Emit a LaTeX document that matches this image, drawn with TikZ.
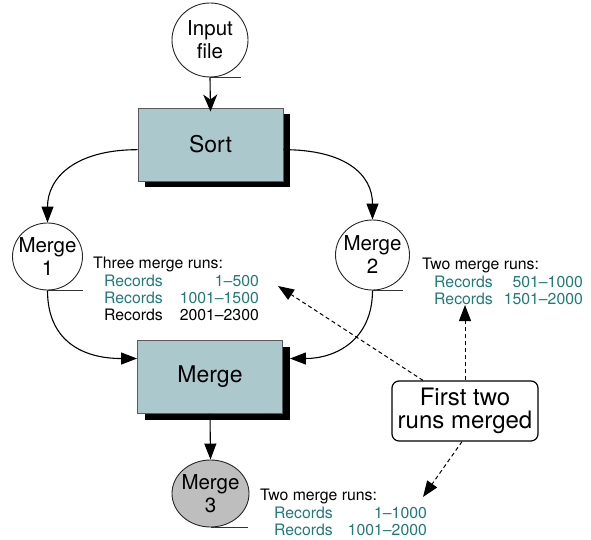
\documentclass[tikz,border=0pt]{standalone}
\usepackage{fontspec}
\setmainfont{TeX Gyre Heros}
\usetikzlibrary{shapes.geometric,shadows,arrows.meta,calc}
\definecolor{boxfill}{RGB}{171,201,205}
\definecolor{tealtxt}{RGB}{31,122,122}
\definecolor{grayfill}{RGB}{190,190,190}
\begin{document}
\begin{tikzpicture}[x=1pt,y=-1pt,
  ell/.style={ellipse, draw=black!85, line width=0.9pt, inner sep=0pt},
  elltext/.style={inner sep=0pt, align=center, font=\fontsize{20.5}{23}\selectfont},
  proc/.style={rectangle, draw=black!65, line width=0.9pt, fill=boxfill,
    minimum width=145pt, minimum height=73pt, font=\fontsize{23}{26}\selectfont,
    drop shadow={shadow xshift=7pt, shadow yshift=-6pt, fill=black, opacity=1}},
  arr/.style={-{Triangle[length=16pt,width=12pt]}, line width=1.1pt},
  dsh/.style={-{Triangle[length=16pt,width=12pt]}, line width=1pt, dash pattern=on 4pt off 3pt},
  tail/.style={line width=0.9pt, draw=black!80},
  runs/.style={anchor=north west, inner sep=0pt, align=left, font=\fontsize{15.8}{17.4}\selectfont},
]
\useasboundingbox (0,0) rectangle (591,540);

% nodes
\node[ell, minimum width=76pt, minimum height=74pt] (in) at (210,40) {};
\node[elltext] (intext) at (in.center) {Input\\file};

\node[proc] (sort) at (210.5,144.5) {Sort};

\node[ell, minimum width=70pt, minimum height=67pt] (m1) at (47.5,256.5) {};
\node[elltext] (m1text) at (m1.center) {Merge\\1};

\node[ell, minimum width=74pt, minimum height=70pt] (m2) at (372.5,255) {};
\node[elltext] (m2text) at (m2.center) {Merge\\2};

\node[proc] (mg) at (210,377) {Merge};

\node[ell, fill=grayfill, minimum width=77pt, minimum height=67pt] (m3) at (210.5,493.5) {};
\node[elltext] (m3text) at (m3.center) {Merge\\3};

\node[rectangle, rounded corners=7pt, draw, line width=1.2pt, fill=white,
  minimum width=146pt, minimum height=60pt, inner sep=2pt, align=center,
  font=\fontsize{24}{23}\selectfont] (ftr) at (465,411) {First two\\runs merged};

% run lists
\node[runs] (r1) at (93,257) {Three merge runs:\\
  \hspace*{11pt}\textcolor{tealtxt}{Records\makebox[96pt][r]{1–500}}\\
  \hspace*{11pt}\textcolor{tealtxt}{Records\makebox[96pt][r]{1001–1500}}\\
  \hspace*{11pt}Records\makebox[96pt][r]{2001–2300}};

\node[runs] (r2) at (422,258) {Two merge runs:\\
  \hspace*{12pt}\textcolor{tealtxt}{Records\makebox[90pt][r]{501–1000}}\\
  \hspace*{12pt}\textcolor{tealtxt}{Records\makebox[90pt][r]{1501–2000}}};

\node[runs] (r3) at (260,489) {Two merge runs:\\
  \hspace*{14pt}\textcolor{tealtxt}{Records\makebox[94pt][r]{1–1000}}\\
  \hspace*{14pt}\textcolor{tealtxt}{Records\makebox[94pt][r]{1001–2000}}};

% tails of the ellipses
\draw[tail] (in.south) -- ++(31,0);
\draw[tail] (m1.south) -- ++(35,0);
\draw[tail] (m2.south) -- ++(30,0);
\draw[tail] (m3.south) -- ++(37,0);

% solid connectors
\draw[-{Stealth[length=17pt,width=14pt,inset=5pt]}, line width=1.1pt] (in.south) -- ($(sort.north)+(0,4)$);
\draw[arr] ($(sort.north west)!0.57!(sort.south west)$) .. controls +(-62,0) and +(0,-45) .. (m1.north);
\draw[arr] ($(sort.north east)!0.57!(sort.south east)$) .. controls +(62,0) and +(0,-45) .. (m2.north);
\draw[arr] (m1.south) .. controls +(0,50) and +(-55,0) .. ($(mg.north west)!0.25!(mg.south west)$);
\draw[arr] (m2.south) .. controls +(0,50) and +(45,0) .. ($(mg.north east)!0.25!(mg.south east)+(7,0)$);
\draw[arr] (mg.south) -- (m3.north);

% dashed connectors
\coordinate (t1) at (278,286);
\coordinate (t2) at (465,305);
\coordinate (t3) at (423,497);
\draw[dsh] ($(ftr.north)+(-42,0)$) -- (t1);
\draw[dsh] (ftr.north) -- (t2);
\draw[dsh] ($(ftr.south)+(-3,0)$) -- (t3);
\end{tikzpicture}
\end{document}
